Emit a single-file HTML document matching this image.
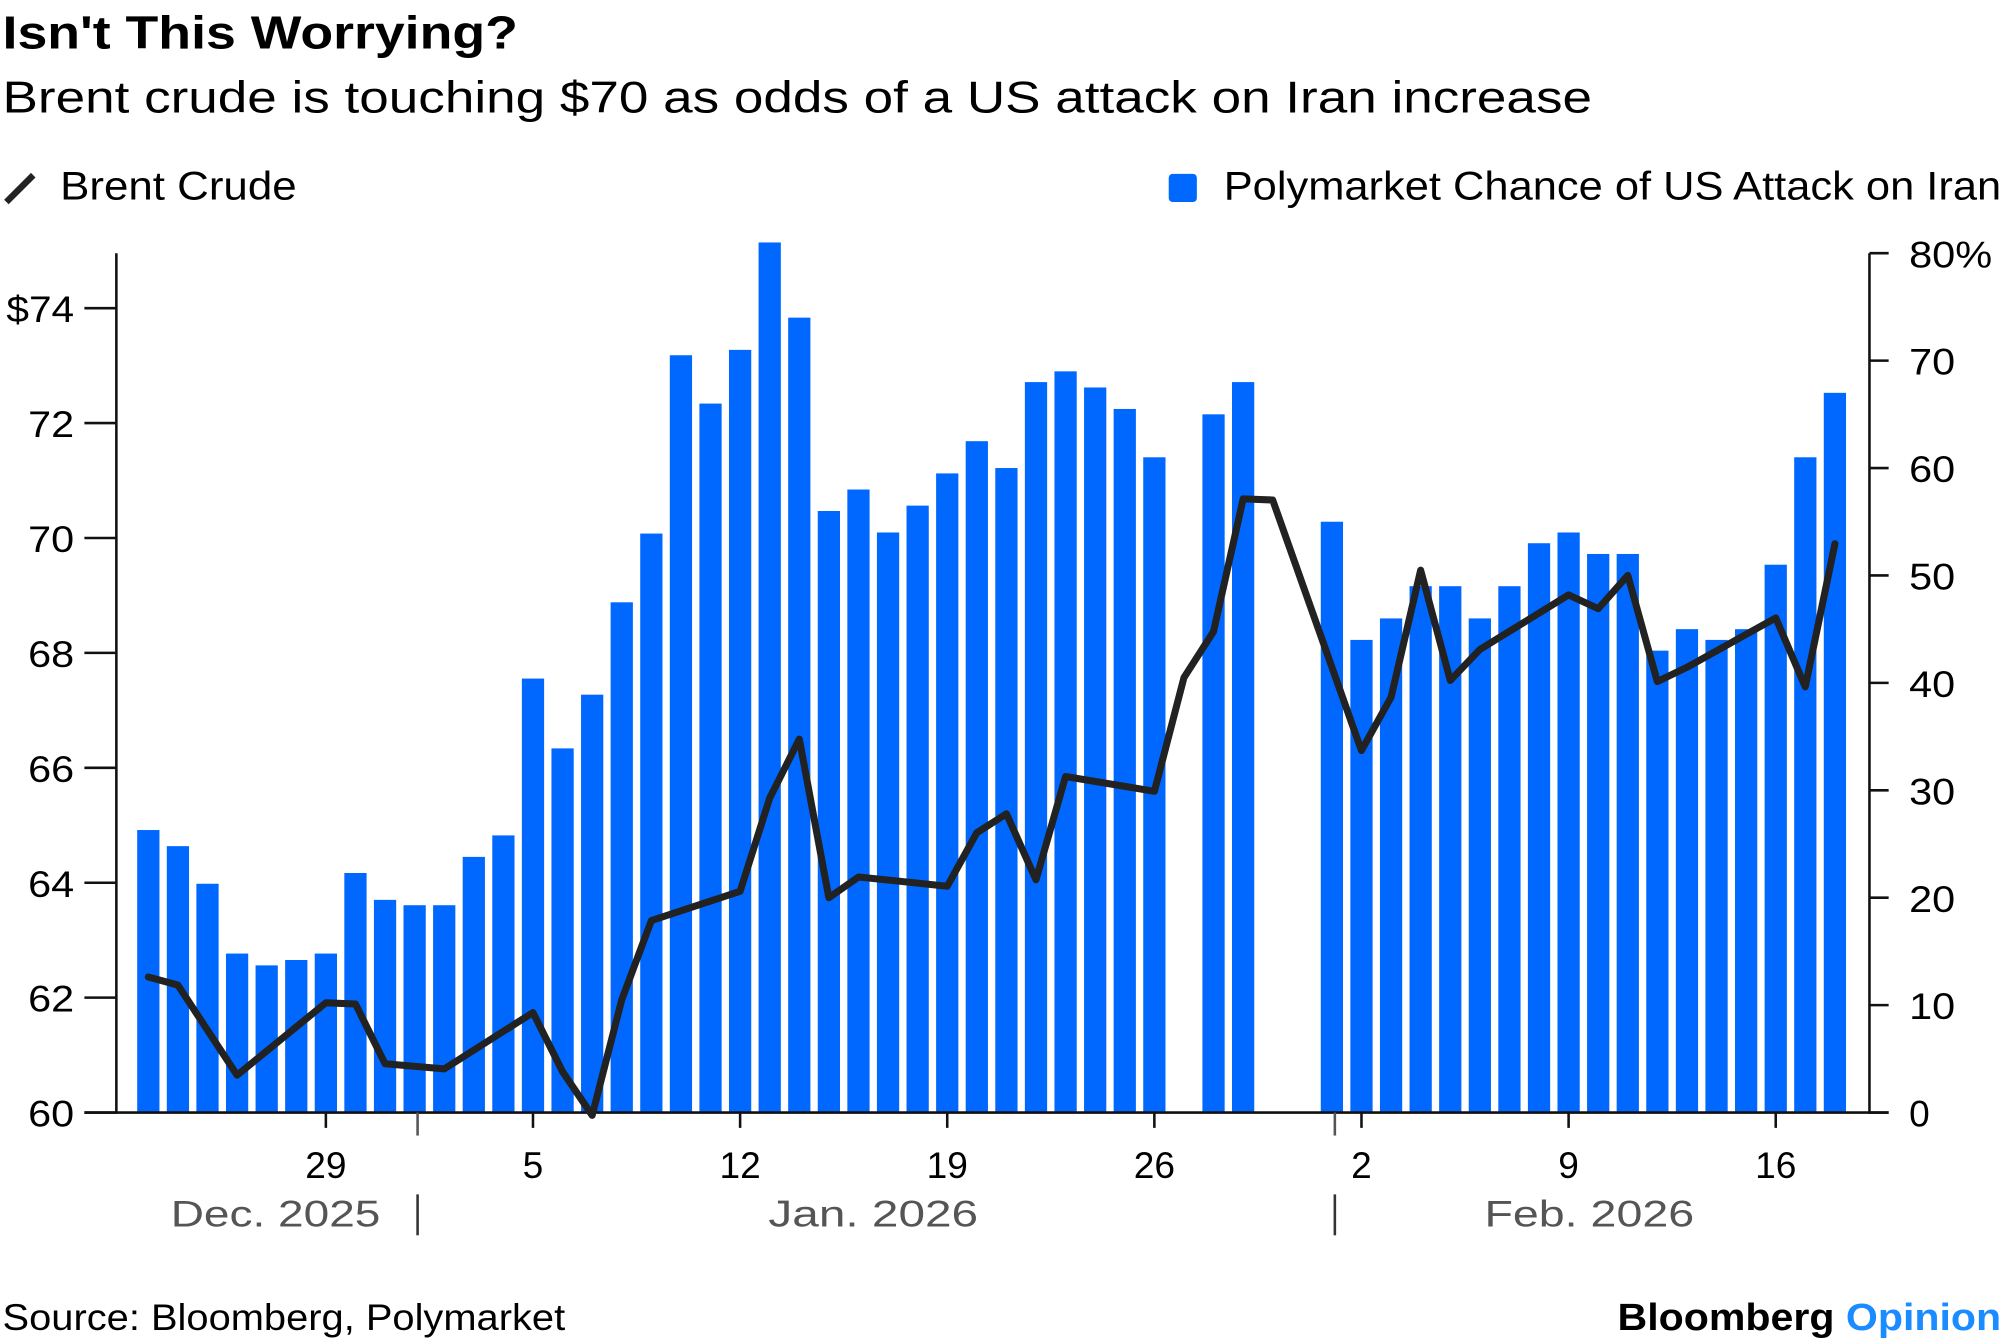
<!DOCTYPE html>
<html><head><meta charset="utf-8"><style>
html,body{margin:0;padding:0;background:#fff;}
svg{display:block;font-family:"Liberation Sans",sans-serif;}
</style></head><body>
<svg id="chart" width="2005" height="1344" viewBox="0 0 1568 1051" preserveAspectRatio="none" xmlns="http://www.w3.org/2000/svg">
<text x="2" y="38" font-size="36" font-weight="bold" fill="#000" textLength="403" lengthAdjust="spacingAndGlyphs">Isn't This Worrying?</text>
<text x="2" y="88" font-size="35" fill="#000" textLength="1243" lengthAdjust="spacingAndGlyphs">Brent crude is touching $70 as odds of a US attack on Iran increase</text>
<g>
<line x1="5" y1="158" x2="26" y2="137" stroke="#222" stroke-width="5"/>
<text x="47" y="156" font-size="31" fill="#000" textLength="185" lengthAdjust="spacingAndGlyphs">Brent Crude</text></g>
<g>
<rect x="914" y="136" width="22" height="22" rx="3" fill="#0068ff"/>
<text x="957" y="156" font-size="31" fill="#000" textLength="608" lengthAdjust="spacingAndGlyphs">Polymarket Chance of US Attack on Iran</text></g>
<g id="plot"></g>
<text x="2" y="1040" font-size="29" fill="#000" textLength="440" lengthAdjust="spacingAndGlyphs">Source: Bloomberg, Polymarket</text>
<text x="1265" y="1040" font-size="30" font-weight="bold" fill="#000" textLength="300" lengthAdjust="spacingAndGlyphs">Bloomberg <tspan fill="#1a8cff">Opinion</tspan></text>
</svg>
<script>
// day index 0 = Dec 23, 2025
const pctValues = [26.3,24.8,21.3,14.8,13.7,14.2,14.8,22.3,19.8,19.3,19.3,23.8,25.8,40.4,33.9,38.9,47.5,53.9,70.5,66,71,81,74,
56,58,54,56.5,59.5,62.5,60,68,69,67.5,65.5,61,null,65,68,null,null,
55,44,46,49,49,46,49,53,54,52,52,43,45,44,45,51,61,67];
const brentDays = [0,1,3,6,7,8,10,13,14,15,16,17,20,21,22,23,24,27,28,29,30,31,34,35,36,37,38,41,42,43,44,45,48,49,50,51,52,55,56,57];
const brentValues = [62.36,62.22,60.65,61.91,61.89,60.85,60.76,61.74,60.71,59.95,61.96,63.34,63.85,65.47,66.5,63.74,64.1,63.94,64.87,65.2,64.05,65.85,65.59,67.57,68.37,70.68,70.66,66.3,67.23,69.44,67.52,68.06,69.01,68.77,69.35,67.5,67.75,68.61,67.41,69.9];
const leftTicks = [60,62,64,66,68,70,72,74];
const rightTicks = [0,10,20,30,40,50,60,70,80];
const dateTickDays = [6,13,20,27,34,41,48,55];
const dateTickLabels = ["29","5","12","19","26","2","9","16"];
const monthLabels = ["Dec. 2025","Jan. 2026","Feb. 2026"];
const monthLabelDays = [4.3,24.5,48.7];
const monthBoundaryDays = [9.1,40.1];

const NS="http://www.w3.org/2000/svg";
const plot=document.getElementById('plot');
const xDay=d=>116+d*23.14;
const yL=v=>870-(v-60)*44.93;
const yR=v=>870-v*8.4;
function mk(tag,attrs){const e=document.createElementNS(NS,tag);for(const k in attrs)e.setAttribute(k,attrs[k]);plot.appendChild(e);return e;}

pctValues.forEach((v,i)=>{ if(v===null)return;
  const r=mk('rect',{x:xDay(i)-8.7,y:yR(v),width:17.4,height:yR(0)-yR(v),fill:'#0068ff'});
  
  
});
let a=mk('line',{x1:91,y1:198,x2:91,y2:871,stroke:'#111','stroke-width':2});


a=mk('line',{x1:1462,y1:198,x2:1462,y2:871,stroke:'#111','stroke-width':2});


a=mk('line',{x1:66,y1:870,x2:1477,y2:870,stroke:'#111','stroke-width':2});


leftTicks.forEach(v=>{
  mk('line',{x1:66,y1:yL(v),x2:91,y2:yL(v),stroke:'#111','stroke-width':2});
  const lbl=(v===74?'$':'')+v;
  const t=mk('text',{x:58,y:yL(v)+11,'font-size':29,'text-anchor':'end',fill:'#000',textLength:(v===74?53:36),lengthAdjust:'spacingAndGlyphs'});
  t.textContent=lbl;
  
  
});
rightTicks.forEach(v=>{
  mk('line',{x1:1462,y1:yR(v),x2:1477,y2:yR(v),stroke:'#111','stroke-width':2});
  const attrs={x:1493,y:yR(v)+11,'font-size':29,fill:'#000'};
  if(v===80){attrs.textLength=65;attrs.lengthAdjust='spacingAndGlyphs';}
  else if(v>0){attrs.textLength=36;attrs.lengthAdjust='spacingAndGlyphs';}
  const t=mk('text',attrs);
  t.textContent=v+(v===80?'%':'');
  
  
});
dateTickDays.forEach((d,i)=>{
  mk('line',{x1:xDay(d),y1:870,x2:xDay(d),y2:882,stroke:'#111','stroke-width':2});
  const t=mk('text',{x:xDay(d),y:921,'font-size':29,'text-anchor':'middle',fill:'#000'});
  t.textContent=dateTickLabels[i];
  
  
});
monthBoundaryDays.forEach(d=>{
  mk('line',{x1:xDay(d),y1:870,x2:xDay(d),y2:888,stroke:'#555','stroke-width':2});
  mk('line',{x1:xDay(d),y1:934,x2:xDay(d),y2:966,stroke:'#333','stroke-width':2});
});
monthLabels.forEach((m,i)=>{
  const t=mk('text',{x:xDay(monthLabelDays[i])-82,y:959,'font-size':29,fill:'#555',textLength:164,lengthAdjust:'spacingAndGlyphs'});
  t.textContent=m;
  
  
});
const pts=brentDays.map((d,i)=>xDay(d).toFixed(1)+','+yL(brentValues[i]).toFixed(1)).join(' ');
const line=mk('polyline',{points:pts,fill:'none',stroke:'#222','stroke-width':5.5,'stroke-linejoin':'round','stroke-linecap':'round'});


</script>
</body></html>
